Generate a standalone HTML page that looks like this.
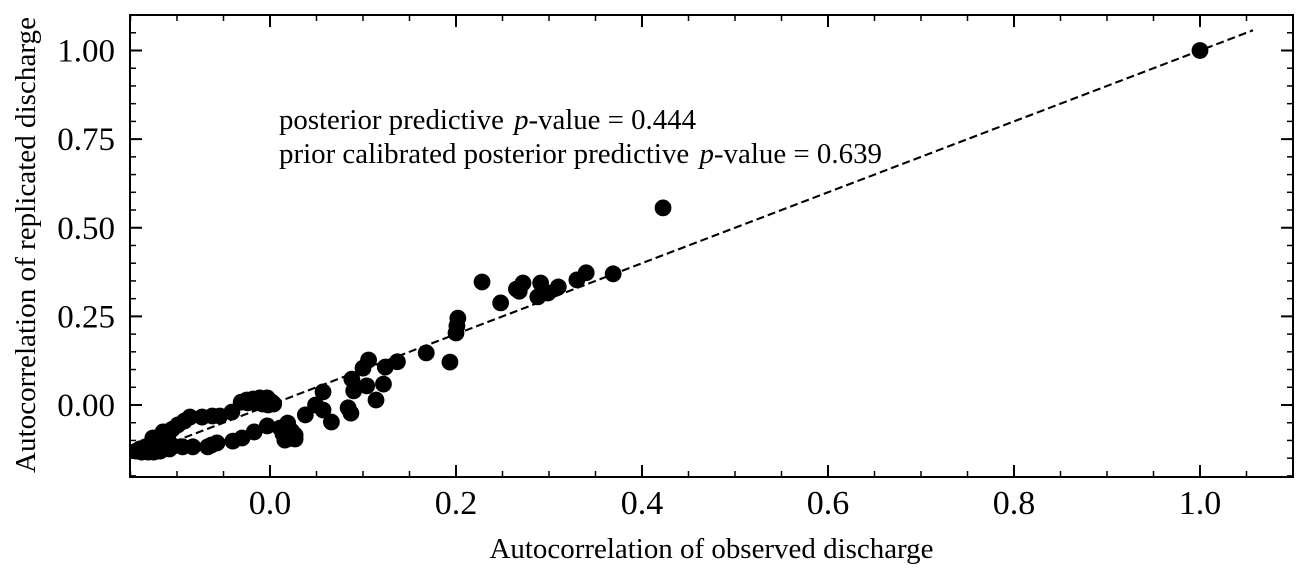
<!DOCTYPE html>
<html lang="en">
<head>
<meta charset="utf-8">
<title>Autocorrelation of replicated vs observed discharge</title>
<style>
html,body{margin:0;padding:0;background:#fff;width:1308px;height:578px;overflow:hidden}
svg{display:block}
text{font-family:"Liberation Serif","Times New Roman",serif;fill:#000}
</style>
</head>
<body>
<svg id="chart" xmlns="http://www.w3.org/2000/svg" width="1308" height="578" viewBox="0 0 1308 578">
  <defs><clipPath id="plot-clip"><rect x="130" y="15" width="1163" height="462"/></clipPath></defs>
  <rect x="0" y="0" width="1308" height="578" fill="#fff"/>
  <g id="reference" clip-path="url(#plot-clip)"></g>
  <g id="points" clip-path="url(#plot-clip)"></g>
  <g id="ticks"></g>
  <rect x="130" y="15" width="1163" height="462" fill="none" stroke="#000" stroke-width="2"/>
  <g id="labels"></g>
  <text x="711.5" y="558" font-size="29" text-anchor="middle" textLength="444" lengthAdjust="spacingAndGlyphs">Autocorrelation of observed discharge</text>
  <text x="0" y="0" transform="translate(35,245) rotate(-90)" font-size="29" text-anchor="middle" textLength="456" lengthAdjust="spacingAndGlyphs">Autocorrelation of replicated discharge</text>
  <text x="279" y="129" font-size="29" textLength="417" lengthAdjust="spacingAndGlyphs">posterior predictive <tspan font-style="italic" dx="3">p</tspan>-value = 0.444</text>
  <text x="279" y="163" font-size="29" textLength="603" lengthAdjust="spacingAndGlyphs">prior calibrated posterior predictive <tspan font-style="italic" dx="3">p</tspan>-value = 0.639</text>
</svg>
<script>
const xTickLabels = ["0.0", "0.2", "0.4", "0.6", "0.8", "1.0"];
const xTickValues = [0, 0.2, 0.4, 0.6, 0.8, 1.0];
const yTickLabels = ["0.00", "0.25", "0.50", "0.75", "1.00"];
const yTickValues = [0, 0.25, 0.5, 0.75, 1.0];
const xMinorValues = [-0.15, -0.1, -0.05, 0.05, 0.1, 0.15, 0.25, 0.3, 0.35, 0.45, 0.5, 0.55, 0.65, 0.7, 0.75, 0.85, 0.9, 0.95, 1.05, 1.1];
const yMinorValues = [-0.2, -0.15, -0.1, -0.05, 0.05, 0.1, 0.15, 0.2, 0.3, 0.35, 0.4, 0.45, 0.55, 0.6, 0.65, 0.7, 0.8, 0.85, 0.9, 0.95, 1.05, 1.1];
const referenceLine = [-0.14, 1.057];
const observed = [
  -0.144, -0.138, -0.131, -0.125, -0.120, -0.118, -0.124, -0.126, -0.119, -0.115, -0.110, -0.105, -0.099,
  -0.092, -0.086, -0.073, -0.062, -0.054, -0.041, -0.031, -0.025, -0.018, -0.011, -0.003, 0.002, 0.004,
  -0.104, -0.094, -0.083, -0.067, -0.063, -0.057, -0.040, -0.030, -0.017, -0.003, 0.014, 0.011, 0.019,
  0.016, 0.027, 0.023, 0.038, 0.049, 0.057, 0.057, 0.066, 0.084, 0.087, 0.088, 0.090, 0.100, 0.104,
  0.106, 0.114, 0.122, 0.124, 0.137, 0.168, 0.1935, 0.200, 0.201, 0.202, 0.228, 0.248, 0.265, 0.268,
  0.272, 0.291, 0.288, 0.293, 0.299, 0.310, 0.330, 0.340, 0.369, 0.4226, 1.0,
  -0.113, -0.114, -0.115, -0.118, -0.129, -0.134, -0.008, -0.002, -0.016, -0.024, 0.027, 0.019, 0.014, 0.023,
  -0.140, -0.108, -0.110
];
const replicated = [
  -0.130, -0.133, -0.133, -0.133, -0.124, -0.113, -0.107, -0.093, -0.090, -0.076, -0.076, -0.068, -0.056,
  -0.045, -0.034, -0.034, -0.031, -0.031, -0.020, 0.008, 0.014, 0.017, 0.020, 0.020, 0.008, 0.003,
  -0.116, -0.118, -0.118, -0.118, -0.113, -0.107, -0.102, -0.093, -0.076, -0.059, -0.082, -0.065, -0.051,
  -0.099, -0.085, -0.093, -0.028, 0.000, 0.037, -0.014, -0.048, -0.008, -0.023, 0.073, 0.040, 0.104, 0.054,
  0.127, 0.014, 0.059, 0.107, 0.122, 0.147, 0.121, 0.203, 0.223, 0.245, 0.347, 0.288, 0.327, 0.321,
  0.344, 0.344, 0.305, 0.316, 0.316, 0.333, 0.353, 0.373, 0.370, 0.556, 1.0,
  -0.079, -0.099, -0.116, -0.130, -0.116, -0.118, 0.003, 0.000, 0.006, 0.006, -0.096, -0.096, -0.073, -0.073,
  -0.124, -0.124, -0.095
];

const NS = 'http://www.w3.org/2000/svg';
const xScale = v => 270 + v * 930;
const yScale = v => 405 - v * 354.5;
const make = (tag, parent) => {
  const el = document.createElementNS(NS, tag);
  parent.appendChild(el);
  return el;
};

const refGroup = document.getElementById('reference');
const ref = make('line', refGroup);


ref.setAttribute('x1', xScale(referenceLine[0]));
ref.setAttribute('y1', yScale(referenceLine[0]));
ref.setAttribute('x2', xScale(referenceLine[1]));
ref.setAttribute('y2', yScale(referenceLine[1]));
ref.setAttribute('stroke', '#000');
ref.setAttribute('stroke-width', '2.1');
ref.setAttribute('stroke-dasharray', '8 4');

const pointsGroup = document.getElementById('points');
observed.forEach((x, i) => {
  const c = make('circle', pointsGroup);
  
  
  c.setAttribute('cx', xScale(x));
  c.setAttribute('cy', yScale(replicated[i]));
  c.setAttribute('r', 8.4);
  c.setAttribute('fill', '#000');
});

const ticksGroup = document.getElementById('ticks');
const drawTick = (x1, y1, x2, y2, name) => {
  const t = make('line', ticksGroup);
  
  
  t.setAttribute('x1', x1);
  t.setAttribute('y1', y1);
  t.setAttribute('x2', x2);
  t.setAttribute('y2', y2);
  t.setAttribute('stroke', '#000');
  t.setAttribute('stroke-width', name.indexOf('minor') >= 0 ? 1.5 : 2);
};
const drawX = (v, len, name) => {
  const px = xScale(v);
  if (px < 130 || px > 1293) return;
  drawTick(px, 477, px, 477 - len, name);
  drawTick(px, 15, px, 15 + len, name);
};
const drawY = (v, len, name) => {
  const py = yScale(v);
  if (py < 15 || py > 477) return;
  drawTick(130, py, 130 + len, py, name);
  drawTick(1293, py, 1293 - len, py, name);
};
xTickValues.forEach(v => drawX(v, 12, 'x-major-tick'));
xMinorValues.forEach(v => drawX(v, 6, 'x-minor-tick'));
yTickValues.forEach(v => drawY(v, 12, 'y-major-tick'));
yMinorValues.forEach(v => drawY(v, 6, 'y-minor-tick'));

const labelsGroup = document.getElementById('labels');
xTickValues.forEach((v, i) => {
  const t = make('text', labelsGroup);
  
  
  t.setAttribute('x', xScale(v));
  t.setAttribute('y', 514);
  t.setAttribute('font-size', 34);
  t.setAttribute('text-anchor', 'middle');
  t.textContent = xTickLabels[i];
});
yTickValues.forEach((v, i) => {
  const t = make('text', labelsGroup);
  
  
  t.setAttribute('x', 115);
  t.setAttribute('y', yScale(v) + 11);
  t.setAttribute('font-size', 33);
  t.setAttribute('text-anchor', 'end');
  t.textContent = yTickLabels[i];
});
</script>
</body>
</html>
